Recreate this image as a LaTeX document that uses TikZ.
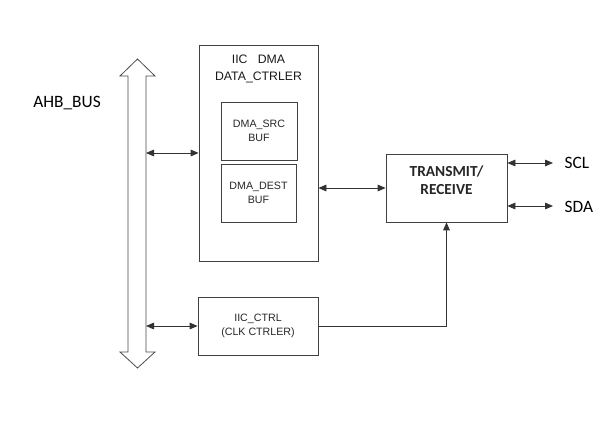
\documentclass[tikz,border=0pt]{standalone}
\usepackage{fontspec}
\setmainfont{Carlito}
\newfontfamily\arialf{Liberation Sans}
\usetikzlibrary{arrows.meta}
\def\px{0.75pt}
\tikzset{
  box/.style={draw=black!75, line width=0.6pt, rectangle, inner sep=0pt},
  conn/.style={line width=0.6pt, draw=black!80, {Triangle[length=6pt,width=5pt]}-{Triangle[length=6pt,width=5pt]}},
  conn1/.style={line width=0.6pt, draw=black!80, -{Triangle[length=6pt,width=5pt]}},
  smalltxt/.style={font=\arialf\fontsize{8}{10.5}\selectfont, align=center, text=black!85},
  titletxt/.style={font=\arialf\fontsize{9.2}{13}\selectfont, align=center, text=black!90},
  bigtxt/.style={font=\fontsize{13}{15}\selectfont, text=black},
  txtxt/.style={align=center, font=\bfseries\fontsize{11.5}{13.5}\selectfont, text=black!85},
}
\begin{document}
\begin{tikzpicture}[x=\px,y=-\px]
\useasboundingbox (0,0) rectangle (599,434);
% bus
\draw[draw=black!70, line width=0.6pt, fill=white]
  (128,76) -- (120,76) -- (137.5,59) -- (155,76) -- (146,76) -- (146,352) -- (155,352)
  -- (137.5,368) -- (120,352) -- (128,352) -- cycle;
\node[bigtxt] (ahb) at (67,103) {AHB\_BUS};
\coordinate (bus1) at (146,153);
\coordinate (bus2) at (146,326);
% boxes
\node[box, minimum width=119*\px, minimum height=216*\px] (dma) at (258.5,153) {};
\node[titletxt] (dmat) at (258.5,69) {IIC\ \ \ DMA\\DATA\_CTRLER};
\node[box, minimum width=76*\px, minimum height=58*\px, smalltxt] (src) at (259,131) {DMA\_SRC\\BUF};
\node[box, minimum width=75*\px, minimum height=58*\px, smalltxt] (dest) at (258.5,193) {DMA\_DEST\\BUF};
\node[box, minimum width=121*\px, minimum height=68*\px] (tx) at (446.5,188) {};
\node[txtxt] (txt) at (446.5,180) {TRANSMIT/\\RECEIVE};
\node[box, minimum width=120*\px, minimum height=58*\px, smalltxt] (ctrl) at (258,326) {IIC\_CTRL\\(CLK CTRLER)};
% connectors
\draw[conn] (bus1) -- (dma.west);
\draw[conn] (dma.east |- tx.west) -- (tx.west);
\draw[conn] (bus2) -- (ctrl.west);
\draw[conn1] (ctrl.east) -| (tx.south);
\coordinate (scl) at (553,163);
\coordinate (sda) at (553,206);
\draw[conn] (tx.east |- scl) -- (scl);
\draw[conn] (tx.east |- sda) -- (sda);
\node[bigtxt, anchor=west] (sclt) at (560,163) {SCL};
\node[bigtxt, anchor=west] (sdat) at (560,207) {SDA};
\end{tikzpicture}
\end{document}
